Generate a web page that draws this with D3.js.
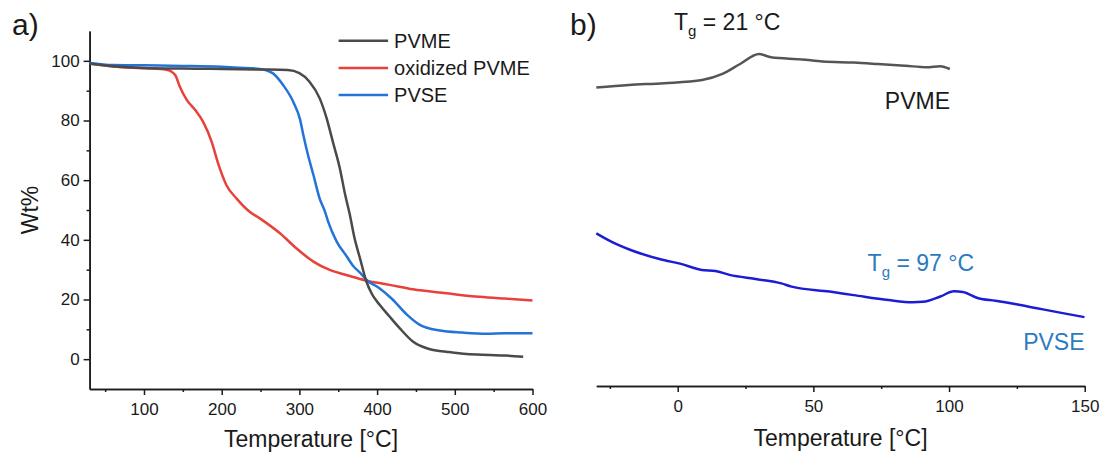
<!DOCTYPE html>
<html>
<head>
<meta charset="utf-8">
<script src="https://cdn.jsdelivr.net/npm/d3@7"></script>
<style>
  body { margin: 0; background: #fff; }
  svg { display: block; font-family: "Liberation Sans", Arial, sans-serif; }
</style>
</head>
<body>
<div id="chart"></div>
<script>
// TGA data, panel a: [temperature °C, Wt%]
var tgaPVME = [[30,99.0],[60,98.2],[100,97.6],[150,97.4],[200,97.3],[250,97.1],[285,96.9],[300,95.9],
  [313,93.0],[326,87.5],[335,80.8],[343,72.9],[352,64.0],[359,55.0],[365,48.3],[371,40.5],[378,33.8],
  [386,26.2],[393,22.0],[403,18.3],[416,14.3],[429,10.4],[446,5.9],[468,3.3],[489,2.5],[515,1.7],
  [545,1.4],[565,1.2],[588,0.8]];
var tgaOxidized = [[30,99.2],[60,98.1],[103,97.5],[129,97.0],[140,95.3],[146,91.4],[155,86.9],[166,83.5],
  [176,79.6],[187,72.9],[196,65.1],[206,58.4],[219,53.9],[236,49.4],[249,47.2],[275,42.2],[296,37.2],
  [318,32.7],[339,29.9],[365,27.9],[388,26.2],[403,25.5],[416,24.9],[446,23.4],[489,22.1],[532,20.9],
  [564,20.3],[600,19.7]];
var tgaPVSE = [[30,99.3],[60,98.6],[100,98.5],[150,98.3],[200,98.0],[223,97.7],[249,97.3],[266,95.8],
  [279,91.9],[292,86.3],[301,80.2],[305,75.2],[311,68.5],[318,61.8],[326,53.9],[333,49.4],[337,46.1],
  [348,39.4],[361,34.4],[369,31.3],[378,29.0],[388,26.2],[403,23.8],[420,20.0],[438,15.0],
  [455,11.5],[481,9.6],[510,8.9],[541,8.5],[564,8.7],[600,8.7]];

// DSC data, panel b: [temperature °C, heat flow (a.u.)]
var dscPVME = [[-30,84.1],[-18,84.8],[-5,85.3],[9,86.2],[16.5,87.9],[23,90.7],[30,93.5],[34.4,92.6],
  [45.8,92.0],[53.4,91.4],[64.9,91.1],[73.8,90.7],[84,90.2],[91.7,89.8],[96.8,90.1],[100.3,89.3]];
var dscPVSE = [[-30,43.0],[-24.3,40.6],[-16.6,38.1],[-6.4,35.7],[1.2,34.4],[8.9,32.7],[13.9,32.4],
  [19.1,31.3],[29.2,30.1],[38.2,28.9],[42,28.0],[56,26.6],[64.9,25.6],[77.7,24.2],[86.6,23.6],
  [90.4,23.7],[96.8,25.2],[101.8,26.7],[105.1,26.5],[110.8,24.7],[117.1,24.0],[124.8,23.0],
  [132.4,21.9],[141.4,20.6],[149.9,19.4]];

var legendNames = ["PVME", "oxidized PVME", "PVSE"];
var xTicksA = [100, 200, 300, 400, 500, 600];
var xMinorA = [50, 150, 250, 350, 450, 550];
var yTicksA = [0, 20, 40, 60, 80, 100];
var yMinorA = [10, 30, 50, 70, 90];
var xTicksB = [0, 50, 100, 150];
var xMinorB = [-25, 25, 75, 125];

var width = 1102, height = 457;
var axisColor = "#1a1a1a";

var svg = d3.select("#chart").append("svg")
    .attr("width", width)
    .attr("height", height);

// ---------- panel a ----------
var xA = d3.scaleLinear().domain([30, 600]).range([89.6, 532.5]);
var yA = d3.scaleLinear().domain([-10, 110]).range([389, 31]);

function styleAxis(g, fontSize) {
    g.select(".domain").attr("stroke", axisColor).attr("stroke-width", 1.5);
    g.selectAll(".tick line").attr("stroke", axisColor).attr("stroke-width", 1.5);
    g.selectAll(".tick text").attr("fill", "#1a1a1a").style("font-size", fontSize + "px");
    g.attr("font-family", null);
}

var gA = svg.append("g");

gA.append("g")
    .attr("transform", "translate(0,389)")
    .call(d3.axisBottom(xA).tickValues(xMinorA).tickSize(3).tickSizeOuter(0).tickFormat(""))
    .call(styleAxis, 17);
gA.append("g")
    .attr("transform", "translate(0,389)")
    .call(d3.axisBottom(xA).tickValues(xTicksA).tickSize(6).tickSizeOuter(0).tickPadding(8))
    .call(styleAxis, 17);

gA.append("g")
    .attr("transform", "translate(89.6,0)")
    .call(d3.axisLeft(yA).tickValues(yMinorA).tickSize(3).tickSizeOuter(0).tickFormat(""))
    .call(styleAxis, 17);
gA.append("g")
    .attr("transform", "translate(89.6,0)")
    .call(d3.axisLeft(yA).tickValues(yTicksA).tickSize(6).tickSizeOuter(0).tickPadding(4))
    .call(styleAxis, 17);

var lineA = d3.line()
    .x(function(d) { return xA(d[0]); })
    .y(function(d) { return yA(d[1]); })
    .curve(d3.curveMonotoneX);

var tgaSeries = [
    { data: tgaOxidized, color: "#e8413c" },
    { data: tgaPVSE, color: "#2473d6" },
    { data: tgaPVME, color: "#4a4a4a" }
];

gA.selectAll("path.tga")
    .data(tgaSeries)
    .join("path")
    .attr("class", "tga")
    .attr("d", function(d) { return lineA(d.data); })
    .attr("fill", "none")
    .attr("stroke", function(d) { return d.color; })
    .attr("stroke-width", 2.5)
    .attr("stroke-linejoin", "round");

// legend
var legendColors = ["#4a4a4a", "#e8413c", "#2473d6"];
var legend = gA.selectAll("g.legend")
    .data(legendNames)
    .join("g")
    .attr("class", "legend")
    .attr("transform", function(d, i) { return "translate(338.6," + (40.7 + i * 27.2) + ")"; });
legend.append("line")
    .attr("x1", 0).attr("x2", 49.5)
    .attr("stroke", function(d, i) { return legendColors[i]; })
    .attr("stroke-width", 2.5);
legend.append("text")
    .attr("x", 55.5)
    .attr("dy", "0.35em")
    .style("font-size", "20px")
    .attr("fill", "#1a1a1a")
    .text(function(d) { return d; });

gA.append("text")
    .attr("x", 311).attr("y", 447)
    .attr("text-anchor", "middle")
    .style("font-size", "23px")
    .attr("fill", "#1a1a1a")
    .text("Temperature [°C]");

gA.append("text")
    .attr("transform", "translate(37.5,210) rotate(-90)")
    .attr("text-anchor", "middle")
    .style("font-size", "23px")
    .attr("fill", "#1a1a1a")
    .text("Wt%");

gA.append("text")
    .attr("x", 12).attr("y", 35)
    .style("font-size", "30px")
    .attr("fill", "#1a1a1a")
    .text("a)");

// ---------- panel b ----------
var xB = d3.scaleLinear().domain([-30, 150]).range([596.3, 1084.7]);
var yB = d3.scaleLinear().domain([0, 100]).range([386, 31]);

var gB = svg.append("g");

gB.append("g")
    .attr("transform", "translate(0,386)")
    .call(d3.axisBottom(xB).tickValues(xMinorB).tickSize(3).tickSizeOuter(0).tickFormat(""))
    .call(styleAxis, 17);
gB.append("g")
    .attr("transform", "translate(0,386)")
    .call(d3.axisBottom(xB).tickValues(xTicksB).tickSize(6).tickSizeOuter(0).tickPadding(8))
    .call(styleAxis, 17);

var lineB = d3.line()
    .x(function(d) { return xB(d[0]); })
    .y(function(d) { return yB(d[1]); })
    .curve(d3.curveMonotoneX);

gB.append("path")
    .attr("d", lineB(dscPVME))
    .attr("fill", "none")
    .attr("stroke", "#555555")
    .attr("stroke-width", 2.5);

gB.append("path")
    .attr("d", lineB(dscPVSE))
    .attr("fill", "none")
    .attr("stroke", "#1c1cd4")
    .attr("stroke-width", 2.5);

function tgLabel(x, y, value, color) {
    var t = gB.append("text")
        .attr("x", x).attr("y", y)
        .style("font-size", "23px")
        .attr("fill", color);
    t.append("tspan").text("T");
    t.append("tspan").attr("dy", 6).style("font-size", "15px").text("g");
    t.append("tspan").attr("dy", -6).text(" = " + value + " °C");
}

tgLabel(674, 30, 21, "#1a1a1a");
tgLabel(867.6, 270.7, 97, "#2b7bbf");

gB.append("text")
    .attr("x", 950).attr("y", 109)
    .attr("text-anchor", "end")
    .style("font-size", "23px")
    .attr("fill", "#1a1a1a")
    .text("PVME");

gB.append("text")
    .attr("x", 1084.5).attr("y", 350)
    .attr("text-anchor", "end")
    .style("font-size", "23px")
    .attr("fill", "#2b7bbf")
    .text("PVSE");

gB.append("text")
    .attr("x", 840.5).attr("y", 446)
    .attr("text-anchor", "middle")
    .style("font-size", "23px")
    .attr("fill", "#1a1a1a")
    .text("Temperature [°C]");

gB.append("text")
    .attr("x", 570).attr("y", 35)
    .style("font-size", "30px")
    .attr("fill", "#1a1a1a")
    .text("b)");
</script>
</body>
</html>
